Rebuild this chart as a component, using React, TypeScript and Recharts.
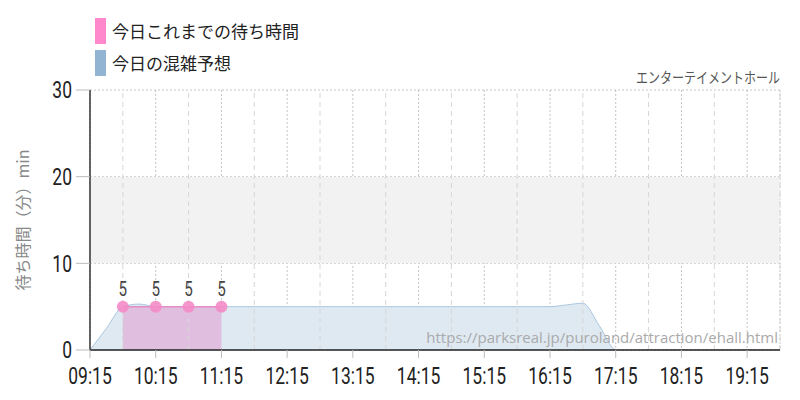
import React from "react";
import {
  ComposedChart,
  Area,
  XAxis,
  YAxis,
  CartesianGrid,
  ReferenceArea,
  ReferenceLine,
  LabelList,
} from "recharts";

// minutes after 09:15, every 15 minutes
const forecastTimes = [
  0, 15, 30, 45, 60, 75, 90, 105, 120, 135, 150, 165, 180, 195, 210, 225, 240, 255, 270, 285, 300,
  315, 330, 345, 360, 375, 390, 405, 420, 435, 450, 465, 480, 495, 510, 525, 540, 555, 570, 585, 600, 615, 630,
];
const forecastValues = [
  0, 2.5, 5, 5.3, 5, 5, 5, 5, 5, 5, 5, 5, 5, 5, 5, 5, 5, 5, 5, 5, 5,
  5, 5, 5, 5, 5, 5, 5, 5, 5.2, 5.4, 2.8, 0, -0.2, 0, 0, 0, 0, 0, 0, 0, 0, 0,
];
const actualTimes = [30, 60, 90, 120];
const actualValues = [5, 5, 5, 5];
const hourTicks = [0, 60, 120, 180, 240, 300, 360, 420, 480, 540, 600];
const halfHourLines = [30, 90, 150, 210, 270, 330, 390, 450, 510, 570, 630];
const yTicks = [0, 10, 20, 30];
const legendLabels = ["今日これまでの待ち時間", "今日の混雑予想"];
const titleText = "エンターテイメントホール";
const urlText = "https://parksreal.jp/puroland/attraction/ehall.html";
const yAxisTitle = "待ち時間（分）min";

const data = forecastTimes.map((t, i) => {
  const ai = actualTimes.indexOf(t);
  return {
    t,
    forecast: forecastValues[i],
    actual: ai >= 0 ? actualValues[ai] : null,
  };
});

const fmt = (m: number) => {
  const total = 9 * 60 + 15 + m;
  const h = Math.floor(total / 60);
  const mm = total % 60;
  return `${String(h).padStart(2, "0")}:${String(mm).padStart(2, "0")}`;
};

const COND = "Roboto, 'Liberation Sans', sans-serif";
const JP = "'Noto Sans CJK JP', sans-serif";
const SX = 0.76;

const XTick = (props: any) => {
  const { x, y, payload } = props;
  return (
    <text
      transform={`translate(${x},${y}) scale(${SX},1)`}
      textAnchor="middle"
      dy="0.72em"
      fill="#222"
      fontSize={23}
      fontWeight={400}
      fontFamily={COND}
    >
      {fmt(payload.value)}
    </text>
  );
};

const YTick = (props: any) => {
  const { x, y, payload } = props;
  return (
    <text
      transform={`translate(${x},${y}) scale(${SX},1)`}
      textAnchor="end"
      dy="0.36em"
      fill="#222"
      fontSize={23}
      fontWeight={400}
      fontFamily={COND}
    >
      {payload.value}
    </text>
  );
};

const PointLabel = (props: any) => {
  const { x, y, value } = props;
  if (value == null) return null;
  return (
    <text
      transform={`translate(${x},${y - 11}) scale(${SX},1)`}
      textAnchor="middle"
      fill="#444"
      fontSize={20}
      fontWeight={400}
      fontFamily={COND}
    >
      {value}
    </text>
  );
};

export default function App() {
  return (
    <div style={{ position: "absolute", left: 0, top: 0, width: 800, height: 400, background: "#fff" }}>
      <div style={{ position: "absolute", left: 95, top: 15, fontFamily: JP, fontSize: 17, color: "#222" }}>
        {legendLabels.map((l, i) => (
          <div key={l} style={{ display: "flex", alignItems: "center", height: 32 }}>
            <div style={{ width: 11, height: 26, background: i === 0 ? "#ff88cc" : "#90b4d2", marginRight: 6 }} />
            <span style={{ lineHeight: "26px" }}>{l}</span>
          </div>
        ))}
      </div>
      <div
        style={{
          position: "absolute",
          right: 20,
          top: 66,
          fontFamily: JP,
          fontSize: 15,
          color: "#555",
          transform: "scaleX(0.8)",
          transformOrigin: "right center",
          whiteSpace: "nowrap",
        }}
      >
        {titleText}
      </div>
      <div
        style={{
          position: "absolute",
          left: 22,
          top: 220,
          fontFamily: JP,
          fontSize: 16,
          color: "#888",
          transform: "translate(-50%,-50%) rotate(-90deg)",
          whiteSpace: "nowrap",
        }}
      >
        {yAxisTitle}
      </div>
      <ComposedChart
        width={800}
        height={400}
        data={data}
        margin={{ top: 90, right: 20, bottom: 0, left: 0 }}
      >
        <ReferenceArea y1={10} y2={20} fill="#f2f2f2" fillOpacity={1} stroke="none" />
        <CartesianGrid stroke="#c4c4c4" strokeDasharray="2 2" />
        {halfHourLines.map((h) => (
          <ReferenceLine key={h} x={h} stroke="#d6d6d6" strokeDasharray="5 4" />
        ))}
        <XAxis
          dataKey="t"
          type="number"
          domain={[0, 630]}
          ticks={hourTicks}
          height={50}
          interval={0}
          axisLine={false}
          tickLine={{ stroke: "#bbb" }}
          tickSize={8}
          tickMargin={9}
          tick={<XTick />}
        />
        <YAxis
          domain={[0, 30]}
          allowDataOverflow
          ticks={yTicks}
          width={90}
          axisLine={{ stroke: "#333", strokeWidth: 1.5 }}
          tickLine={{ stroke: "#bbb" }}
          tickSize={14}
          tickMargin={4}
          tick={<YTick />}
        />
        <Area
          dataKey="forecast"
          type="monotone"
          stroke="#a9c6e0"
          strokeWidth={1}
          fill="#dfe9f2"
          fillOpacity={1}
          isAnimationActive={false}
          dot={false}
          activeDot={false}
        />
        <Area
          dataKey="actual"
          type="linear"
          stroke="#e58cc4"
          strokeWidth={1.5}
          fill="#e0bedf"
          fillOpacity={1}
          isAnimationActive={false}
          connectNulls
          dot={{ r: 6, fill: "#f48bc8", fillOpacity: 0.9, stroke: "none" }}
          activeDot={false}
        >
          <LabelList dataKey="actual" content={<PointLabel />} />
        </Area>
        <ReferenceLine y={0} stroke="#222" strokeWidth={1.5} />
      </ComposedChart>
      <div style={{ position: "absolute", right: 22, top: 327, fontFamily: "'Open Sans', sans-serif", fontSize: 15, color: "#aaa" }}>{urlText}</div>
    </div>
  );
}
